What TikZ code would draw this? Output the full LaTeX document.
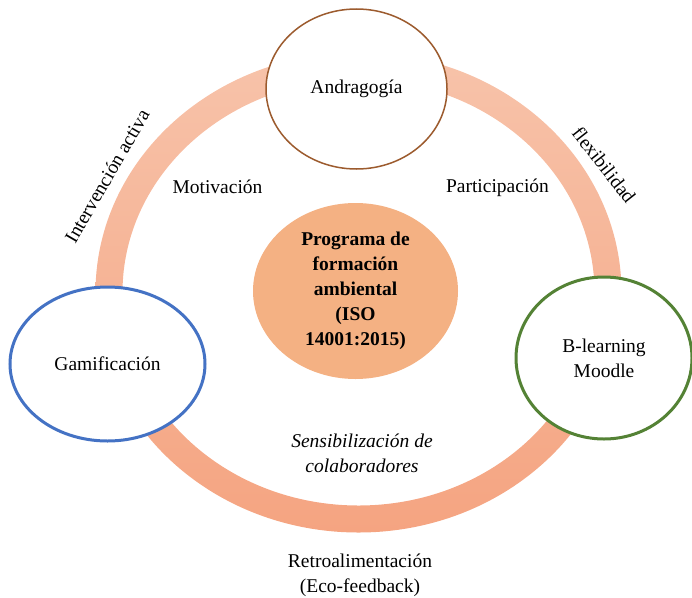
\documentclass[tikz,border=0pt]{standalone}
\usepackage{fontspec}
\setmainfont{Liberation Serif}
\usetikzlibrary{shapes.geometric}
\definecolor{ringtop}{HTML}{F7C3AA}
\definecolor{ringbot}{HTML}{F5A481}
\definecolor{core}{HTML}{F4B183}
\definecolor{bark}{HTML}{9C5B2E}
\definecolor{ocean}{HTML}{4472C4}
\definecolor{moss}{HTML}{548235}

\begin{document}
\begin{tikzpicture}[x=1pt, y=-1pt,
  every node/.style={font=\fontsize{19.5}{25}\selectfont, align=center},
  bubble/.style={ellipse, fill=white, inner sep=0pt},
  lbl/.style={inner sep=0pt},
]
\useasboundingbox (0,0) rectangle (692,597);

% --- Ring behind everything ---
\shade[top color=ringtop, bottom color=ringbot, even odd rule]
  (358.5,292.5) ellipse [x radius=263, y radius=240]
  (358.5,292.5) ellipse [x radius=236, y radius=213];

% --- Centre ---
\node[ellipse, fill=core, inner sep=0pt, minimum width=205pt, minimum height=176pt,
  font=\fontsize{19.5}{25}\selectfont\bfseries] (core) at (355.5,291)
  {Programa de\\formación\\ambiental\\(ISO\\14001:2015)};

% --- Three bubbles on the ring ---
\node[bubble, draw=bark, line width=1.5pt, minimum width=181pt, minimum height=160pt]
  (andra) at (356.5,89) {Andragogía};
\node[bubble, draw=ocean, line width=3pt, minimum width=195pt, minimum height=154pt]
  (gami) at (107.5,364) {Gamificación};
\node[bubble, draw=moss, line width=3pt, minimum width=176pt, minimum height=162pt]
  (blearn) at (604,358) {B-learning\\Moodle};

% --- Labels ---
\node[lbl] (motiv) at (217.5,187) {Motivación};
\node[lbl] (parti) at (497.5,188) {Participación};
\node[lbl, rotate=60] (inter) at (107,176) {Intervención activa};
\node[lbl, rotate=-52] (flex) at (604,165) {flexibilidad};
\node[lbl, font=\fontsize{19.5}{25}\selectfont\itshape] (sensi) at (362,453)
  {Sensibilización de\\colaboradores};
\node[lbl] (retro) at (360,575) {Retroalimentación\\(Eco-feedback)};

\end{tikzpicture}
\end{document}
